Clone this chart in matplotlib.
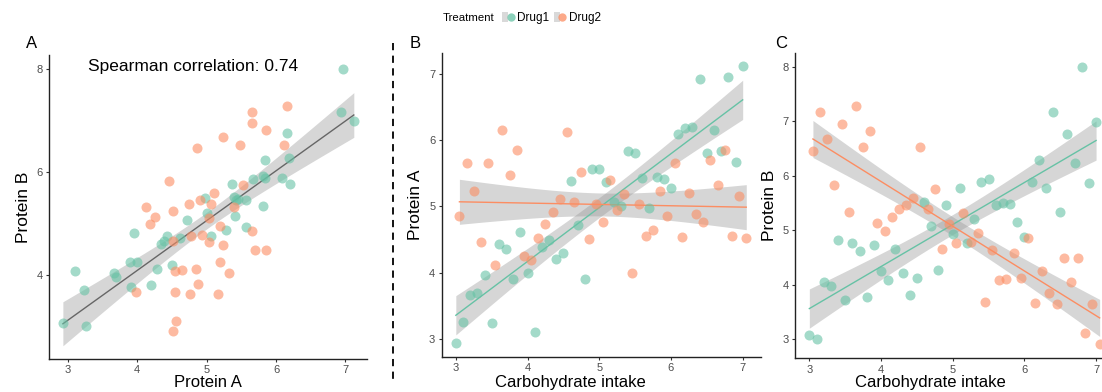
import numpy as np
import matplotlib
matplotlib.use("Agg")
import matplotlib.pyplot as plt
from matplotlib.patches import Rectangle
from matplotlib.lines import Line2D
from matplotlib.legend_handler import HandlerTuple

plt.rcParams["font.family"] = ["Liberation Sans", "DejaVu Sans"]

# carbohydrate intake per subject
carb_drug1 = [3.0, 3.1, 3.2, 3.3, 3.4, 3.5, 3.6, 3.7, 3.8, 3.9, 4.0, 4.1, 4.2, 4.3,
              4.4, 4.5, 4.6, 4.7, 4.8, 4.9, 5.0, 5.1, 5.2, 5.3, 5.4, 5.5, 5.6, 5.7,
              5.8, 5.9, 6.0, 6.1, 6.2, 6.3, 6.4, 6.5, 6.6, 6.7, 6.8, 6.9, 7.0]
carb_drug2 = [3.05, 3.15, 3.25, 3.35, 3.45, 3.55, 3.65, 3.75, 3.85, 3.95, 4.05, 4.15,
              4.25, 4.35, 4.45, 4.55, 4.65, 4.75, 4.85, 4.95, 5.05, 5.15, 5.25, 5.35,
              5.45, 5.55, 5.65, 5.75, 5.85, 5.95, 6.05, 6.15, 6.25, 6.35, 6.45, 6.55,
              6.65, 6.75, 6.85, 6.95, 7.05]

# protein A
protein_a_drug1 = [2.93, 3.26, 3.66, 3.69, 3.96, 3.24, 4.43, 4.35, 3.91, 4.62, 4.00,
                   3.11, 4.39, 4.50, 4.20, 4.29, 5.39, 4.72, 3.90, 5.57, 5.57, 5.37,
                   5.07, 5.00, 5.84, 5.81, 5.43, 4.98, 5.45, 5.41, 5.28, 6.09, 6.19,
                   6.20, 6.93, 5.81, 6.16, 5.84, 6.96, 5.67, 7.12]
protein_a_drug2 = [4.86, 5.65, 5.24, 4.46, 5.66, 4.12, 6.16, 5.48, 5.85, 4.25, 4.19,
                   4.52, 4.74, 4.91, 5.11, 6.12, 5.07, 5.52, 4.51, 5.03, 4.77, 5.40,
                   4.94, 5.19, 3.99, 5.04, 4.55, 4.65, 5.23, 4.85, 5.65, 4.54, 5.20,
                   4.88, 4.76, 5.70, 5.32, 5.85, 4.56, 5.16, 4.52]

# protein B
protein_b_drug1 = [3.07, 3.01, 4.05, 3.97, 4.82, 3.72, 4.76, 4.61, 3.77, 4.73, 4.25,
                   4.09, 4.66, 4.21, 3.81, 4.13, 5.52, 5.08, 4.26, 5.46, 4.93, 5.78,
                   4.77, 5.20, 5.88, 5.93, 5.47, 5.50, 5.48, 5.15, 4.87, 5.88, 6.28,
                   5.77, 7.16, 5.34, 6.76, 6.23, 8.00, 5.86, 6.99]
protein_b_drug2 = [6.46, 7.17, 6.68, 5.82, 6.95, 5.33, 7.28, 6.52, 6.81, 5.13, 4.99,
                   5.25, 5.38, 5.47, 5.59, 6.52, 5.38, 5.76, 4.66, 5.12, 4.77, 5.32,
                   4.78, 4.95, 3.68, 4.64, 4.08, 4.10, 4.59, 4.13, 4.86, 3.67, 4.25,
                   3.84, 3.64, 4.49, 4.04, 4.49, 3.12, 3.64, 2.92]

treatments = ["Drug1", "Drug2"]
colors = {"Drug1": "#66C2A5", "Drug2": "#FC8D62"}
spearman_label = "Spearman correlation: 0.74"

W, H = 1102, 392
TICK_COLOR = "#4D4D4D"
RIBBON = "#999999"


def smooth(ax, x, y, color):
    """linear fit with 95% confidence band (lm, se=TRUE)"""
    x = np.asarray(x, float)
    y = np.asarray(y, float)
    n = len(x)
    slope, intercept = np.polyfit(x, y, 1)
    resid = y - (slope * x + intercept)
    s = np.sqrt(np.sum(resid ** 2) / (n - 2))
    sxx = np.sum((x - x.mean()) ** 2)
    t = 2.0227 if n < 60 else 1.9901
    xs = np.linspace(x.min(), x.max(), 80)
    fit = slope * xs + intercept
    se = s * np.sqrt(1 / n + (xs - x.mean()) ** 2 / sxx)
    ax.fill_between(xs, fit - t * se, fit + t * se, color=RIBBON, alpha=0.4, lw=0, zorder=2)
    ax.plot(xs, fit, color=color, lw=1.0, zorder=3)


def style(ax, xlabel, ylabel, xlim, ylim, yticks, xlabel_pos):
    ax.set_xlim(*xlim)
    ax.set_ylim(*ylim)
    ax.set_xticks([3, 4, 5, 6, 7])
    ax.set_yticks(yticks)
    for side in ("top", "right"):
        ax.spines[side].set_visible(False)
    for side in ("left", "bottom"):
        ax.spines[side].set_color("#222222")
        ax.spines[side].set_linewidth(1.0)
    ax.tick_params(length=2.5, width=0.8, color="#333333", labelcolor=TICK_COLOR,
                   labelsize=8, pad=2)
    ax.set_xlabel(xlabel, fontsize=12, va="baseline")
    ax.set_ylabel(ylabel, fontsize=12.5, labelpad=4)
    ax.xaxis.set_label_coords(*xlabel_pos)


def axes_px(left, top, right, bottom):
    return [left / W, 1 - bottom / H, (right - left) / W, (bottom - top) / H]


fig = plt.figure(figsize=(W / 100, H / 100), dpi=100)

prot_b = {"Drug1": protein_b_drug1, "Drug2": protein_b_drug2}
prot_a = {"Drug1": protein_a_drug1, "Drug2": protein_a_drug2}
carb = {"Drug1": carb_drug1, "Drug2": carb_drug2}

# A: protein A vs protein B, pooled fit
ax_a = fig.add_axes(axes_px(49, 55, 367, 359))
for tr in treatments:
    ax_a.scatter(prot_a[tr], prot_b[tr], s=52, color=colors[tr], alpha=0.6, lw=0, zorder=4)
smooth(ax_a, protein_a_drug1 + protein_a_drug2, protein_b_drug1 + protein_b_drug2, "#666666")
style(ax_a, "Protein A", "Protein B", (2.73, 7.31), (2.38, 8.27), [4, 6, 8],
      (0.5, -0.092))
ax_a.text(0.453, 0.962, spearman_label, transform=ax_a.transAxes, ha="center", va="center",
          fontsize=12.5)

# B: carbohydrate intake vs protein A
ax_b = fig.add_axes(axes_px(441.5, 53.5, 760.6, 356.7))
for tr in treatments:
    ax_b.scatter(carb[tr], prot_a[tr], s=52, color=colors[tr], alpha=0.6, lw=0, zorder=4)
for tr in treatments:
    smooth(ax_b, carb[tr], prot_a[tr], colors[tr])
style(ax_b, "Carbohydrate intake", "Protein A", (2.80, 7.25), (2.73, 7.31), [3, 4, 5, 6, 7],
      ((570 - 441.5) / (760.6 - 441.5), -0.100))

# C: carbohydrate intake vs protein B
ax_c = fig.add_axes(axes_px(795, 52.9, 1114, 358.3))
for tr in treatments:
    ax_c.scatter(carb[tr], prot_b[tr], s=52, color=colors[tr], alpha=0.6, lw=0, zorder=4)
for tr in treatments:
    smooth(ax_c, carb[tr], prot_b[tr], colors[tr])
style(ax_c, "Carbohydrate intake", "Protein B", (2.80, 7.25), (2.65, 8.25), [3, 4, 5, 6, 7, 8],
      ((930 - 795) / (1114 - 795), -0.094))

# panel tags
for tag, xp in (("A", 26), ("B", 410), ("C", 775)):
    fig.text(xp / W, 1 - 44 / H, tag, fontsize=12, ha="left", va="center")

# dashed separator between A and B|C
fig.add_artist(Line2D([393 / W, 393 / W], [1 - 43 / H, 1 - 384 / H], color="black",
                      lw=1.3, ls=(0, (4, 3))))

# treatment legend on top
fig.text(443 / W, 1 - 18 / H, "Treatment", fontsize=8.2, ha="left", va="center")
handles = []
for tr in treatments:
    key_bg = Rectangle((0, 0), 1, 1, facecolor="#D9D9D9", edgecolor="none")
    key_pt = Line2D([], [], color=colors[tr], marker="o", markersize=6, lw=0,
                    markerfacecolor=colors[tr], markeredgewidth=0, alpha=0.75)
    handles.append((key_bg, key_pt))
fig.legend(handles, treatments, handler_map={tuple: HandlerTuple(ndivide=None, pad=0)},
           loc="center left", bbox_to_anchor=(502 / W, 1 - 18 / H), ncol=2, frameon=False,
           fontsize=8.5, handlelength=1.0, handleheight=1.0, handletextpad=0.3,
           columnspacing=0.35, borderpad=0, borderaxespad=0)

fig.savefig("out.png", dpi=100)
